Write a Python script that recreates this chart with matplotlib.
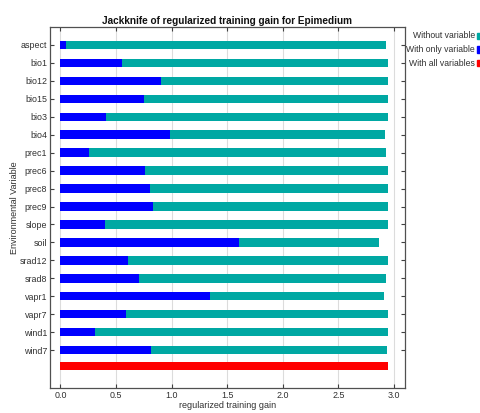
import matplotlib
matplotlib.use("Agg")
import matplotlib.pyplot as plt
import numpy as np

plt.rcParams['font.family'] = ['Liberation Sans', 'DejaVu Sans']

variables = ["aspect", "bio1", "bio12", "bio15", "bio3", "bio4", "prec1", "prec6",
             "prec8", "prec9", "slope", "soil", "srad12", "srad8", "vapr1", "vapr7",
             "wind1", "wind7"]
gain_without = [2.925, 2.943, 2.949, 2.943, 2.943, 2.919, 2.931, 2.943, 2.949,
                2.943, 2.949, 2.868, 2.949, 2.931, 2.907, 2.943, 2.949, 2.937]
gain_only = [0.048, 0.557, 0.905, 0.749, 0.414, 0.986, 0.255, 0.761, 0.806,
             0.830, 0.399, 1.603, 0.611, 0.710, 1.349, 0.593, 0.312, 0.818]
gain_all = 2.949
xticks = [0.0, 0.5, 1.0, 1.5, 2.0, 2.5, 3.0]

teal = "#00A8A3"
blue = "#0000FF"
red = "#FF0000"

fig = plt.figure(figsize=(4.8, 4.13), dpi=100)
ax = fig.add_axes([50/480, 1 - 388/413, 355/480, 361/413])

ypos = np.arange(len(variables))
all_pos = len(variables) - 1 + 0.89
h = 0.47

ax.barh(ypos, gain_without, height=h, color=teal, edgecolor="none", zorder=2)
ax.barh(ypos, gain_only, height=h, color=blue, edgecolor="none", zorder=3)
ax.barh([all_pos], [gain_all], height=h, color=red, edgecolor="none", zorder=2)

ax.set_xlim(-0.094, 3.098)
ax.set_ylim(all_pos + 1.22, -1.0)
ax.set_yticks(ypos)
ax.set_yticklabels(variables)
ax.set_xticks(xticks)
ax.set_xticklabels([f"{t:.1f}" for t in xticks])

ax.grid(axis="x", color="#dcdcdc", linewidth=0.8, zorder=0)
ax.set_axisbelow(True)
ax.tick_params(direction="in", length=3, width=0.8, color="#404040",
               labelsize=6.4, labelcolor="#303030", top=True, right=True,
               pad=2)
for s in ax.spines.values():
    s.set_color("#505050")
    s.set_linewidth(0.9)

ax.set_title("Jackknife of regularized training gain for Epimedium",
             fontsize=7.2, fontweight="bold", color="#111111", pad=2)
ax.set_xlabel("regularized training gain", fontsize=6.5, color="#303030",
              va="center")
ax.xaxis.set_label_coords(0.5, -18/361)
ax.set_ylabel("Environmental Variable", fontsize=6.5, color="#303030",
              va="center")
ax.yaxis.set_label_coords(-35/355, 0.5)

legend_items = [("Without variable", teal), ("With only variable", blue),
                ("With all variables", red)]
for i, (label, col) in enumerate(legend_items):
    yy = 1 - (36 + i * 13.5) / 413
    fig.text(475/480, yy, label, ha="right", va="center", fontsize=6.2, color="#303030")
    fig.patches.append(plt.Rectangle((477/480, yy - 3/413), 4/480, 6/413,
                                     transform=fig.transFigure, color=col,
                                     clip_on=False))

fig.savefig("out.png", dpi=100)
